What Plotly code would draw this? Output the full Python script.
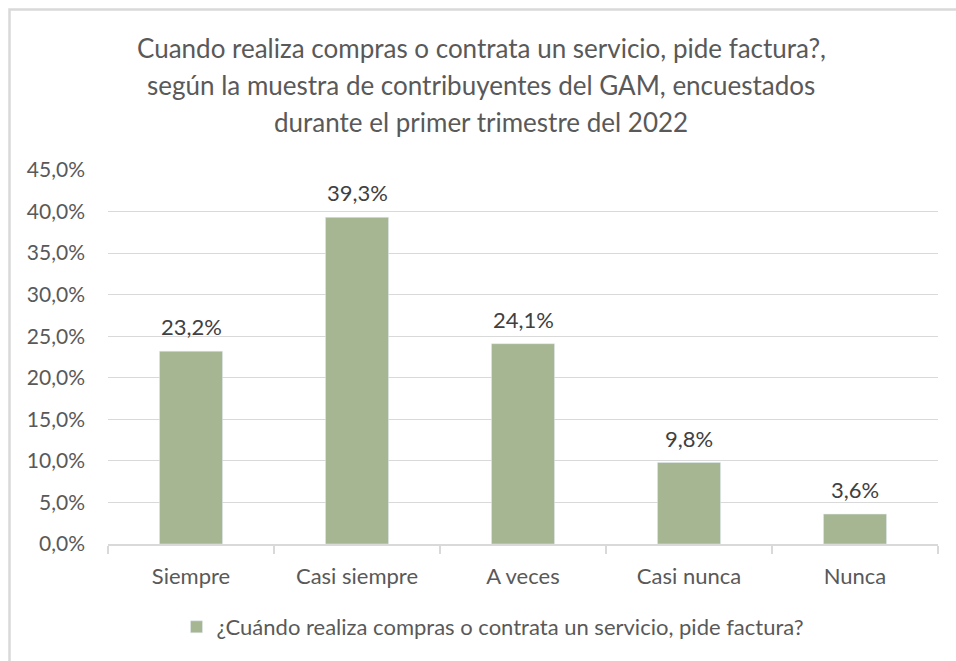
import plotly.graph_objects as go

categories = ["Siempre", "Casi siempre", "A veces", "Casi nunca", "Nunca"]
values = [23.2, 39.3, 24.1, 9.8, 3.6]
series_name = "¿Cuándo realiza compras o contrata un servicio, pide factura?"
title_lines = [
    "Cuando realiza compras o contrata un servicio, pide factura?,",
    "según la muestra de contribuyentes del GAM, encuestados",
    "durante el primer trimestre del 2022",
]

FONT = "Lato"
TXT = "#595959"
GRID = "#D9D9D9"
BAR = "#A6B592"

fig = go.Figure()
fig.add_trace(go.Bar(
    x=categories, y=values, name=series_name,
    marker=dict(color=BAR),
    cliponaxis=False,
))

W, H = 956, 661
ml, mr, mt, mb = 108, 18, 170, 117
pw = W - ml - mr
ph = H - mt - mb

annotations = []
for c, v in zip(categories, values):
    annotations.append(dict(
        x=c, y=v, xref="x", yref="y", text=f"{v:.1f}%".replace(".", ","),
        showarrow=False, xanchor="center", yanchor="bottom", yshift=9,
        font=dict(family=FONT, size=22, color="#404040"),
    ))
for i, line in enumerate(title_lines):
    ypix = 48 + 37 * i
    annotations.append(dict(
        text=line, xref="paper", yref="paper",
        x=(481 - ml) / pw, y=(H - mb - ypix) / ph,
        xanchor="center", yanchor="middle", showarrow=False,
        font=dict(family=FONT, size=26, color=TXT),
    ))

fig.update_layout(
    width=W, height=H,
    margin=dict(l=ml, r=mr, t=mt, b=mb),
    paper_bgcolor="white", plot_bgcolor="white",
    separators=",.",
    bargap=0.62,
    showlegend=True,
    legend=dict(
        orientation="h", x=(493 - ml) / pw, xanchor="center",
        y=-(627 - (H - mb)) / ph, yanchor="middle",
        font=dict(family=FONT, size=22, color=TXT),
    ),
    annotations=annotations,
    shapes=[dict(
        type="rect", xref="paper", yref="paper",
        x0=-(ml - 9.5) / pw, x1=1 + (mr + 20) / pw,
        y0=-(mb + 20) / ph, y1=1 + (mt - 9.5) / ph,
        line=dict(color=GRID, width=2.5), fillcolor="rgba(0,0,0,0)", layer="below",
    )],
    font=dict(family=FONT, color=TXT),
)
fig.update_yaxes(
    range=[0, 45], dtick=5, tickformat=".1f", ticksuffix="%",
    showgrid=True, gridcolor=GRID, gridwidth=1,
    zeroline=False, showline=False,
    tickfont=dict(family=FONT, size=21, color=TXT), ticks="", ticklabelstandoff=22,
)
fig.update_xaxes(
    showline=True, linecolor=GRID, linewidth=1.5,
    ticks="outside", tickson="boundaries", ticklen=8, tickcolor=GRID, tickwidth=1.5,
    tickfont=dict(family=FONT, size=22, color=TXT), ticklabelstandoff=12,
)

fig.write_html("out.html", config={"displayModeBar": False},
               post_script="document.body.style.margin='0';")
